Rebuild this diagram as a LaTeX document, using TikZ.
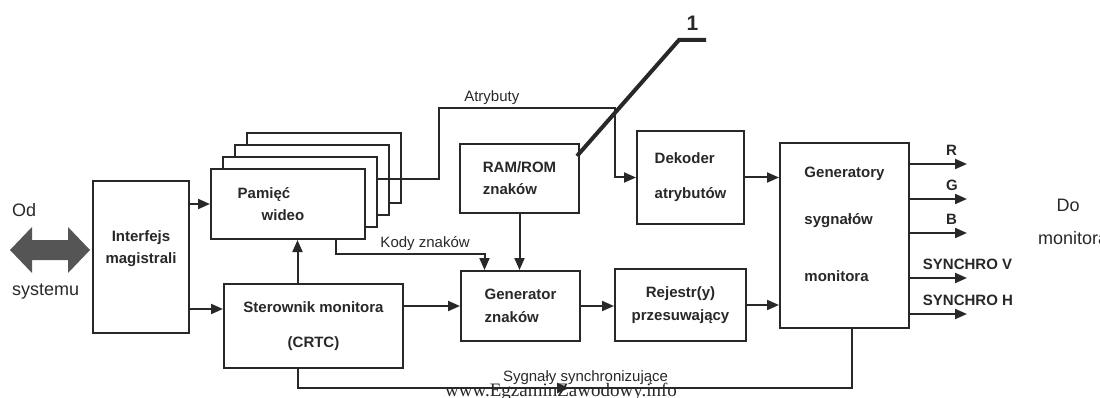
\documentclass[tikz,border=0pt]{standalone}
\usepackage{fontspec}
\setmainfont{Liberation Sans}
\newfontfamily\wmfont{Liberation Serif}
\usetikzlibrary{arrows.meta, positioning, decorations.markings}
\definecolor{inkgray}{RGB}{40, 40, 40}
\definecolor{busgray}{RGB}{85, 85, 85}

\begin{document}
\begin{tikzpicture}[
  x=1pt, y=-1pt,
  block/.style={rectangle, draw=inkgray, fill=white, line width=2pt, anchor=north west, inner sep=0pt, font=\fontsize{15}{18}\selectfont\bfseries, text=inkgray},
  tag/.style={font=\fontsize{15}{18}\selectfont, text=inkgray, inner sep=2pt},
  outtag/.style={font=\fontsize{15}{18}\selectfont\bfseries, text=inkgray, inner sep=2pt, yshift=5pt},
  num/.style={font=\fontsize{21}{24}\selectfont\bfseries, text=inkgray, inner sep=3pt, yshift=4pt},
  side/.style={font=\fontsize{18}{21}\selectfont, text=inkgray, inner sep=0pt},
  line/.style={draw=inkgray, line width=2pt},
  flow/.style={line, -{Triangle[length=12pt, width=10pt]}},
  leader/.style={draw=inkgray, line width=4pt}
]
  \useasboundingbox (0,0) rectangle (1100,398);

  % system side
  \fill[busgray] (10,250) -- (32,227) -- (32,240) -- (68,240) -- (68,227) -- (90,250)
    -- (68,273) -- (68,260) -- (32,260) -- (32,273) -- cycle;
  \node[side, anchor=west] (od) at (12,210) {Od};
  \node[side, anchor=west] (systemu) at (12,292) {systemu};

  \node[block, minimum width=96pt, minimum height=152pt, align=center] (iface) at (92,180) {Interfejs\\[4pt]magistrali\\[2pt]\mbox{}};

  % video memory pages
  \node[block, minimum width=154pt, minimum height=70pt] (back3) at (246,132) {};
  \node[block, minimum width=154pt, minimum height=70pt, below left=12pt and 12pt of back3.north west, anchor=north west] (back2) {};
  \node[block, minimum width=154pt, minimum height=70pt, below left=12pt and 12pt of back2.north west, anchor=north west] (back1) {};
  \node[block, minimum width=154pt, minimum height=70pt, below left=12pt and 12pt of back1.north west, anchor=north west, align=left] (vmem) {Pamięć\hspace*{48pt}\\[4pt]\hspace*{24pt}wideo};

  \node[block, minimum width=179pt, minimum height=84pt, align=center] (ctrl) at (223,283) {Sterownik monitora\\[17pt](CRTC)};
  \node[block, minimum width=119pt, minimum height=69pt, align=left] (ramrom) at (459,143) {RAM/ROM\\[4pt]znaków};
  \node[block, minimum width=119pt, minimum height=70pt, align=left] (chargen) at (460,270) {Generator\\[5pt]znaków};
  \node[block, minimum width=107pt, minimum height=93pt, align=left] (decoder) at (636,130) {Dekoder\\[17pt]atrybutów};
  \node[block, minimum width=131pt, minimum height=72pt, align=center] (shiftreg) at (614,268) {Rejestr(y)\\[5pt]przesuwający};
  \node[block, minimum width=129pt, minimum height=185pt, align=left] (sigs) at (779,142) {Generatory\\[29pt]sygnałów\\[39pt]monitora\\[4pt]\mbox{}};

  % connections
  \draw[flow] (iface.east |- vmem.west) -- (vmem.west);
  \coordinate (ctrlin) at ([yshift=17pt]ctrl.west);
  \draw[flow] (iface.east |- ctrlin) -- (ctrlin);
  \coordinate (ctrltap) at ([xshift=-16pt]ctrl.north);
  \draw[flow] (ctrltap) -- (ctrltap |- vmem.south);
  \draw[flow] (ctrl.east |- chargen.west) -- (chargen.west);
  \draw[flow] ([xshift=48pt]vmem.south) -- ++(0,14) -| node[tag, above, pos=0.3] {Kody znaków} ([xshift=-36pt]chargen.north);
  \draw[flow] ([yshift=13pt]back1.east) -- ++(61,0) -- ++(0,-71) -- node[tag, above, pos=0.3] {Atrybuty} ++(176,0) |- (decoder.west);
  \draw[flow] (ramrom.south) -- (ramrom.south |- chargen.north);
  \draw[flow] (decoder.east) -- (decoder.east -| sigs.west);
  \draw[flow] (chargen.east) -- (chargen.east -| shiftreg.west);
  \draw[flow] (shiftreg.east) -- (shiftreg.east -| sigs.west);
  \draw[line, postaction={decorate}, decoration={markings, mark=at position 0.46 with {\arrow{Triangle[length=12pt, width=10pt]}}}]
    (ctrltap |- ctrl.south) -- ++(0,19) -| node[tag, above, pos=0.26] {Sygnały synchronizujące} ([xshift=7pt]sigs.south);

  % monitor outputs
  \foreach \dy/\txt/\p in {71.5/R/0.58, 36.5/G/0.58, 2.5/B/0.58, -42.5/SYNCHRO V/0.175, -78.5/SYNCHRO H/0.175}
    \draw[flow] ([yshift=\dy pt]sigs.east) -- node[outtag, anchor=south west, pos=\p] {\txt} ++(57,0);
  \node[side] (do) at (1068,205) {Do};
  \node[side, anchor=west] (monitor) at (1038,238) {monitora};

  % callout 1
  \draw[leader] ([shift={(-3,13)}]ramrom.north east) -- ++(102,-116) -- node[num, above] {1} ++(27,0);

  \node[font=\wmfont\fontsize{19}{22}\selectfont, text=inkgray] (watermark) at (561,392) {www.EgzaminZawodowy.info};
\end{tikzpicture}
\end{document}
